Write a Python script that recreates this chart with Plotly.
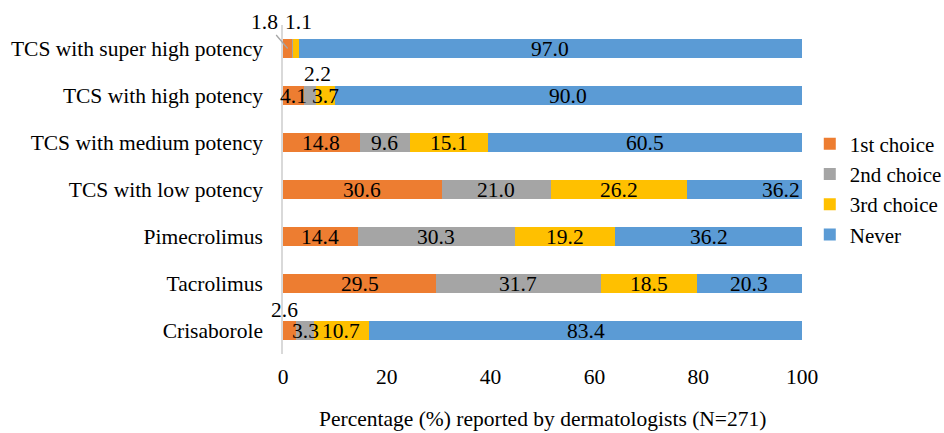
import plotly.graph_objects as go

categories = [
    "TCS with super high potency",
    "TCS with high potency",
    "TCS with medium potency",
    "TCS with low potency",
    "Pimecrolimus",
    "Tacrolimus",
    "Crisaborole",
]
series_names = ["1st choice", "2nd choice", "3rd choice", "Never"]
first_choice = [1.8, 4.1, 14.8, 30.6, 14.4, 29.5, 2.6]
second_choice = [0.1, 2.2, 9.6, 21.0, 30.3, 31.7, 3.3]
third_choice = [1.1, 3.7, 15.1, 26.2, 19.2, 18.5, 10.7]
never = [97.0, 90.0, 60.5, 36.2, 36.2, 20.3, 83.4]
x_ticks = [0, 20, 40, 60, 80, 100]
x_title = "Percentage (%) reported by dermatologists (N=271)"

colors = ["#ED7D31", "#A5A5A5", "#FFC000", "#5B9BD5"]
FONT = "Liberation Serif"
FS = 21.5

all_series = [first_choice, second_choice, third_choice, never]

fig = go.Figure()
for name, vals, col in zip(series_names, all_series, colors):
    fig.add_trace(go.Bar(
        y=categories, x=vals, name=name, orientation="h",
        marker=dict(color=col, line=dict(width=0)),
        width=0.4,
    ))

# Value labels: centred in each segment, small segments labelled outside
# (offsets in pixels: xshift, yshift, or an arrow for the leader line)
outside = {
    (0, 0): dict(arrow=(-23, -27)),
    (0, 2): dict(shift=(3, 27)),
    (1, 1): dict(shift=(8, 22)),
    (6, 0): dict(shift=(-5, 21)),
}
hidden = {(0, 1)}

annotations = []
for i, cat in enumerate(categories):
    cum = 0.0
    for s, vals in enumerate(all_series):
        v = vals[i]
        mid = cum + v / 2
        cum += v
        if (i, s) in hidden:
            continue
        ann = dict(x=mid, y=cat, xref="x", yref="y", text=f"{v:.1f}",
                   showarrow=False, font=dict(family=FONT, size=FS, color="#000000"))
        opt = outside.get((i, s))
        if opt and "arrow" in opt:
            ax, ay = opt["arrow"]
            ann.update(showarrow=True, ax=ax, ay=ay, arrowhead=0,
                       arrowwidth=1.3, arrowcolor="#A6A6A6", standoff=0, startstandoff=0)
        elif opt:
            ann.update(xshift=opt["shift"][0], yshift=opt["shift"][1])
        annotations.append(ann)

# x-axis title placed below the tick labels
annotations.append(dict(x=0.5, y=-0.198, xref="paper", yref="paper", text=x_title,
                        showarrow=False, xanchor="center", yanchor="middle",
                        font=dict(family=FONT, size=FS, color="#000000")))

fig.update_layout(
    barmode="stack",
    width=944, height=433,
    margin=dict(l=283, r=142, t=25, b=79, autoexpand=False),
    paper_bgcolor="white", plot_bgcolor="white",
    font=dict(family=FONT, size=FS, color="#000000"),
    showlegend=True,
    legend=dict(x=1.015, y=0.50, xanchor="left", yanchor="middle",
                traceorder="normal", itemwidth=30,
                font=dict(family=FONT, size=21),
                bgcolor="rgba(0,0,0,0)"),
    annotations=annotations,
    xaxis=dict(range=[0, 100], tickvals=x_ticks, showgrid=False, zeroline=False,
               showline=False, ticks="outside", ticklen=3,
               tickcolor="rgba(0,0,0,0)",
               tickfont=dict(family=FONT, size=FS)),
    yaxis=dict(categoryorder="array", categoryarray=categories, range=[6.5, -0.5],
               showgrid=False, zeroline=False, showline=True, linecolor="#D9D9D9",
               linewidth=1.5, ticks="outside", ticklen=14, tickcolor="rgba(0,0,0,0)",
               tickfont=dict(family=FONT, size=FS)),
)

fig.write_html("out.html")
